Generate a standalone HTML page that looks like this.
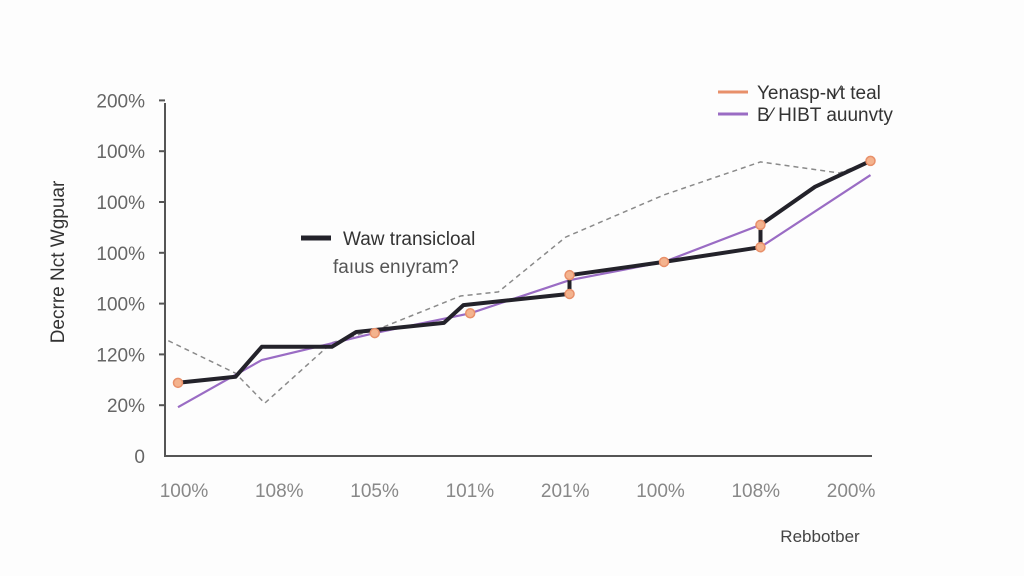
<!DOCTYPE html>
<html><head><meta charset="utf-8">
<style>
html,body{margin:0;padding:0;background:#fdfdfd;}
svg{display:block;font-family:"Liberation Sans",sans-serif;}
</style></head>
<body>
<svg id="chart" width="1024" height="576" viewBox="0 0 1024 576" xmlns="http://www.w3.org/2000/svg">
<rect x="0" y="0" width="1024" height="576" fill="#fdfdfd"/>
<g id="axes"></g>
<g id="series"></g>
<g>
  <line x1="718" y1="92" x2="748" y2="92" stroke="#e8906a" stroke-width="3"/>
  <text x="757" y="99" font-size="19" fill="#333">Yenasp-ɴ⁄t teal</text>
  <line x1="718" y1="114" x2="748" y2="114" stroke="#9a6cc4" stroke-width="3"/>
  <text x="757" y="121" font-size="19" fill="#333">B⁄ HIBT auunvty</text>
</g>
<g>
  <line x1="301" y1="238" x2="331" y2="238" stroke="#23222a" stroke-width="5"/>
  <text x="343" y="245" font-size="19" fill="#333">Waw transicloal</text>
  <text x="333" y="273" font-size="19" fill="#555">faıus enıyram?</text>
</g>
<text transform="translate(64,262) rotate(-90)" text-anchor="middle" font-size="19" fill="#333">Decrre Nct Wgpuar</text>
<text x="820" y="542" text-anchor="middle" font-size="17" fill="#444">Rebbotber</text>
</svg>
<script>
const yTickLabels = ["0","20%","120%","100%","100%","100%","100%","200%"];
const xTickLabels = ["100%","108%","105%","101%","201%","100%","108%","200%"];
const blackX = [0,0.59,0.86,1.58,1.83,2.73,2.93,4.02,4.02,4.99,5.98,5.98,6.54,7.11];
const blackY = [1.44,1.56,2.15,2.15,2.44,2.62,2.97,3.19,3.56,3.82,4.11,4.55,5.30,5.81];
const purpleX = [0,0.86,2.02,3.0,4.02,4.99,5.98,5.98,7.11];
const purpleY = [0.96,1.89,2.42,2.81,3.46,3.82,4.55,4.11,5.53];
const grayX = [-0.1,0.59,0.89,1.58,2.11,2.9,3.29,3.98,4.99,5.98,6.79,7.11];
const grayY = [2.27,1.63,1.04,2.23,2.54,3.15,3.23,4.31,5.14,5.79,5.57,5.81];
const markerX = [0,2.02,3.0,4.02,4.02,4.99,5.98,5.98,7.11];
const markerY = [1.44,2.42,2.81,3.56,3.19,3.82,4.55,4.11,5.81];

const NS="http://www.w3.org/2000/svg";
function xs(v){return 178+v*97.4;}
function ys(v){return 456-v*50.8;}
function mk(tag,attrs,parent){const e=document.createElementNS(NS,tag);for(const k in attrs)e.setAttribute(k,attrs[k]);parent.appendChild(e);return e;}
const axes=document.getElementById('axes');
const ser=document.getElementById('series');

let a=mk('path',{d:'M165 103 V456 H872',fill:'none',stroke:'#555',"stroke-width":2},axes);


yTickLabels.forEach((t,i)=>{
  const y=ys(i);
  if(i>0){const tk=mk('line',{x1:159,x2:165,y1:y,y2:y,stroke:'#555',"stroke-width":2},axes);
  
  }
  const tx=mk('text',{x:145,y:y+7,"text-anchor":"end","font-size":19,fill:'#666'},axes);
  tx.textContent=t;
  
  
});
xTickLabels.forEach((t,i)=>{
  const tx=mk('text',{x:184+i*95.3,y:497,"text-anchor":"middle","font-size":19,fill:'#888'},axes);
  tx.textContent=t;
  
  
});
function pts(X,Y){return X.map((x,i)=>xs(x).toFixed(1)+','+ys(Y[i]).toFixed(1)).join(' ');}
let g=mk('polyline',{points:pts(grayX,grayY),fill:'none',stroke:'#8a8a8a',"stroke-width":1.5,"stroke-dasharray":"5 4"},ser);


let p=mk('polyline',{points:pts(purpleX,purpleY),fill:'none',stroke:'#9a6cc4',"stroke-width":2.2},ser);


let b=mk('polyline',{points:pts(blackX,blackY),fill:'none',stroke:'#23222a',"stroke-width":4,"stroke-linejoin":"round"},ser);


markerX.forEach((x,i)=>{
  const c=mk('circle',{cx:xs(x),cy:ys(markerY[i]),r:4.5,fill:'#f4b38e',stroke:'#e8906a',"stroke-width":1.5},ser);
  
  
});
</script>
</body></html>
